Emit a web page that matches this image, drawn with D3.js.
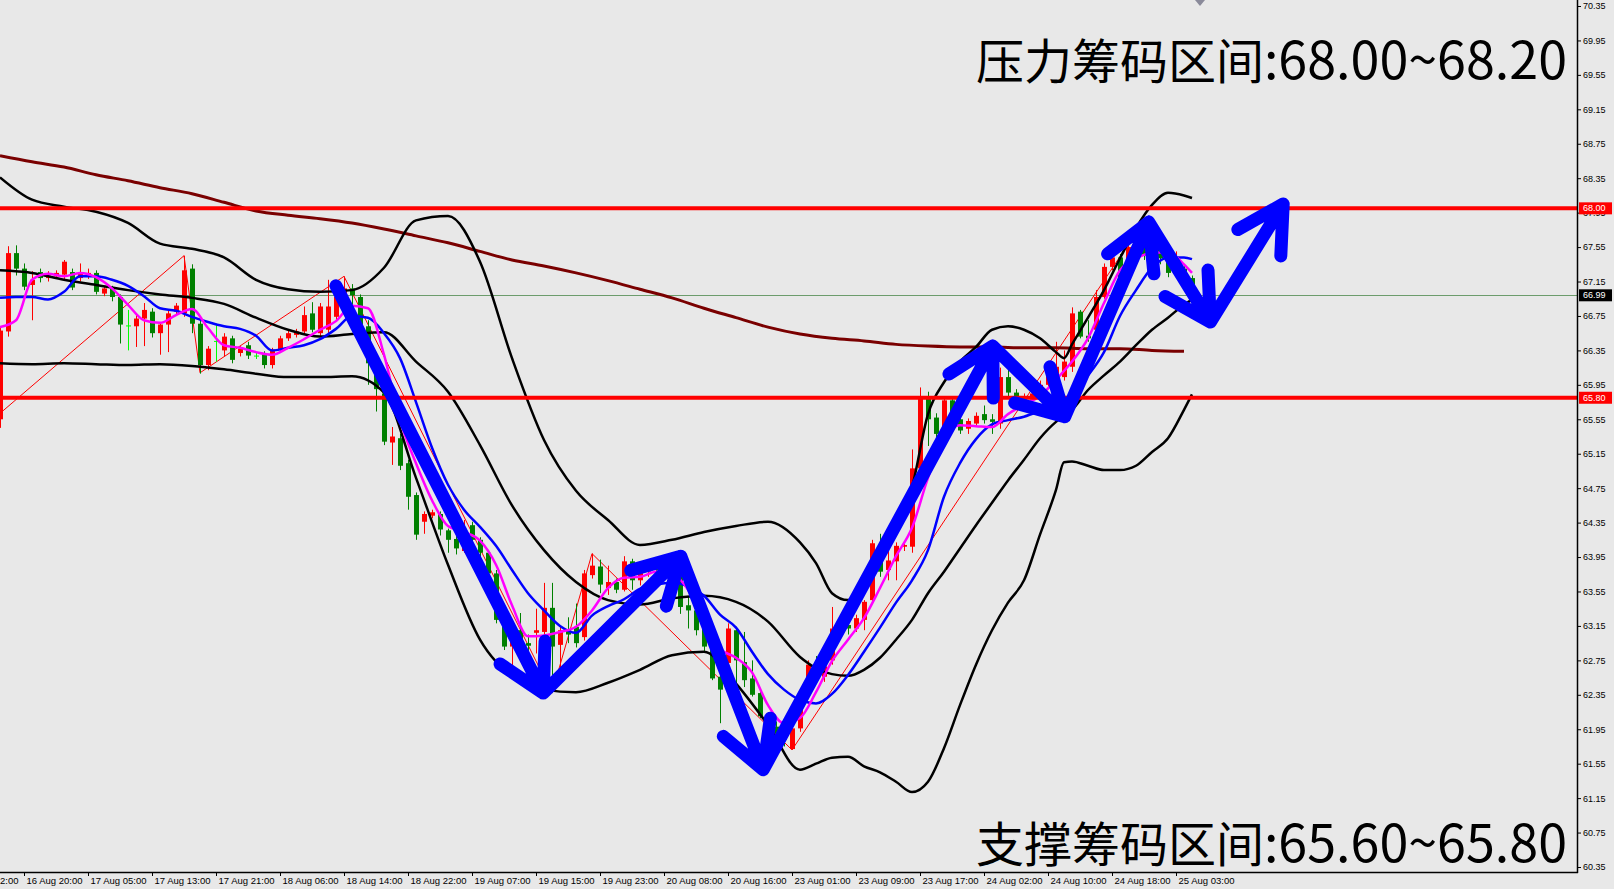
<!DOCTYPE html>
<html>
<head>
<meta charset="utf-8">
<script src="https://cdn.jsdelivr.net/npm/d3@7"></script>
<style>
  html, body { margin: 0; padding: 0; background: #e8e8e8; }
  svg { display: block; }
</style>
</head>
<body>
<div id="chart"></div>
<script>
// ---- candles (H1), bar index 0..149 ----
const candleOpen = [
  65.55, 66.57, 67.48, 67.30, 67.11, 67.26, 67.19, 67.21, 67.23, 67.26,
  67.19, 67.21, 67.25, 67.01, 67.07, 66.97, 66.64, 66.63, 66.72, 66.80,
  66.55, 66.65, 66.80, 66.78, 67.30, 66.66, 66.18, 66.46, 66.35, 66.49,
  66.32, 66.41, 66.29, 66.32, 66.18, 66.36, 66.49, 66.53, 66.57, 66.78,
  66.55, 66.59, 66.74, 66.99, 67.07, 66.97, 66.63, 66.20, 65.85, 65.28,
  65.33, 65.04, 64.67, 64.36, 64.43, 64.45, 64.26, 64.16, 64.02, 64.32,
  64.15, 64.00, 63.76, 63.18, 62.91, 63.10, 62.95, 63.07, 63.08, 63.36,
  62.93, 63.10, 63.14, 63.02, 63.74, 63.84, 63.59, 63.66, 63.57, 63.90,
  63.68, 63.78, 63.86, 63.80, 63.70, 63.76, 63.39, 63.33, 63.12, 62.91,
  62.56, 62.72, 63.10, 62.73, 62.54, 62.37, 62.10, 61.98, 61.98, 61.72,
  61.96, 62.37, 62.70, 62.56, 62.75, 63.12, 63.16, 63.12, 63.22, 63.45,
  64.05, 63.80, 63.90, 64.07, 64.07, 64.98, 65.80, 65.57, 65.38, 65.77,
  65.55, 65.44, 65.50, 65.61, 65.55, 65.50, 66.04, 65.86, 65.73, 65.78,
  65.85, 65.95, 66.04, 66.04, 66.16, 66.80, 66.52, 66.59, 66.97, 67.32,
  67.43, 67.20, 67.55, 67.58, 67.45, 67.52, 67.44, 67.25, 67.30, 67.19
];
const candleHigh = [
  66.62, 67.56, 67.57, 67.36, 67.27, 67.30, 67.27, 67.28, 67.40, 67.30,
  67.36, 67.30, 67.28, 67.10, 67.10, 67.00, 66.82, 66.76, 66.90, 66.84,
  66.68, 66.82, 66.90, 67.45, 67.35, 66.70, 66.40, 66.66, 66.55, 66.52,
  66.40, 66.45, 66.33, 66.34, 66.38, 66.52, 66.58, 66.60, 66.86, 66.91,
  66.90, 67.17, 67.17, 67.21, 67.12, 67.00, 66.70, 66.25, 65.90, 65.46,
  65.38, 65.08, 64.70, 64.48, 64.50, 64.48, 64.28, 64.20, 64.38, 64.36,
  64.18, 64.03, 63.80, 63.33, 63.14, 63.30, 63.05, 63.35, 63.65, 63.65,
  63.15, 63.25, 63.41, 63.80, 63.99, 63.92, 63.85, 63.70, 63.96, 63.93,
  63.85, 63.92, 63.90, 63.88, 63.82, 63.80, 63.49, 63.47, 63.15, 62.95,
  62.60, 63.18, 63.14, 63.08, 62.75, 62.40, 62.12, 62.04, 62.01, 61.98,
  62.30, 62.75, 62.80, 62.72, 63.37, 63.28, 63.20, 63.28, 63.45, 64.15,
  64.22, 64.07, 64.12, 64.12, 65.20, 65.92, 65.87, 65.62, 65.80, 65.82,
  65.60, 65.56, 65.63, 65.71, 65.61, 66.15, 66.17, 65.90, 65.85, 65.90,
  66.00, 66.10, 66.45, 66.35, 66.85, 66.82, 66.70, 67.05, 67.36, 67.58,
  67.47, 67.60, 67.62, 67.62, 67.58, 67.56, 67.52, 67.50, 67.33, 67.22
];
const candleLow = [
  65.45, 66.51, 67.22, 67.05, 66.70, 67.14, 67.15, 67.18, 67.18, 67.05,
  67.15, 67.18, 67.00, 66.98, 66.92, 66.43, 66.35, 66.39, 66.40, 66.50,
  66.30, 66.33, 66.76, 66.74, 66.55, 66.08, 66.12, 66.22, 66.28, 66.20,
  66.28, 66.25, 66.25, 66.14, 66.14, 66.33, 66.46, 66.50, 66.55, 66.56,
  66.52, 66.55, 66.70, 66.95, 66.70, 66.55, 65.95, 65.64, 65.25, 65.02,
  64.96, 64.50, 64.15, 64.22, 64.40, 64.20, 64.00, 63.98, 64.00, 64.10,
  63.95, 63.70, 63.18, 62.87, 62.60, 62.83, 62.80, 62.83, 63.02, 62.37,
  62.60, 62.95, 62.90, 62.98, 63.70, 63.53, 63.51, 63.53, 63.55, 63.57,
  63.62, 63.72, 63.72, 63.70, 63.62, 63.29, 63.12, 63.04, 62.85, 62.52,
  62.02, 62.45, 62.45, 62.44, 62.33, 62.08, 61.86, 61.81, 61.75, 61.71,
  61.92, 62.30, 62.55, 62.50, 62.70, 63.05, 63.05, 63.08, 63.10, 63.42,
  63.72, 63.68, 63.68, 64.02, 64.00, 64.95, 65.24, 65.33, 65.35, 65.50,
  65.38, 65.38, 65.46, 65.50, 65.38, 65.44, 65.82, 65.72, 65.70, 65.74,
  65.80, 65.90, 65.93, 66.00, 66.10, 66.49, 66.45, 66.52, 66.95, 67.28,
  67.15, 67.15, 67.45, 67.40, 67.40, 67.35, 67.20, 67.22, 67.12, 66.95
];
const candleClose = [
  66.58, 67.48, 67.30, 67.09, 67.17, 67.19, 67.22, 67.25, 67.38, 67.08,
  67.25, 67.25, 67.03, 67.07, 66.97, 66.65, 66.64, 66.72, 66.82, 66.55,
  66.65, 66.78, 66.87, 67.28, 66.66, 66.18, 66.37, 66.46, 66.51, 66.24,
  66.37, 66.29, 66.29, 66.18, 66.36, 66.49, 66.55, 66.57, 66.76, 66.59,
  66.86, 66.86, 66.97, 67.07, 66.99, 66.63, 66.20, 65.90, 65.29, 65.35,
  65.01, 64.65, 64.21, 64.45, 64.47, 64.27, 64.15, 64.05, 64.13, 64.15,
  64.00, 63.76, 63.22, 62.91, 62.99, 62.95, 62.92, 63.10, 63.36, 62.91,
  63.10, 63.05, 62.95, 63.76, 63.85, 63.63, 63.66, 63.57, 63.90, 63.68,
  63.78, 63.86, 63.80, 63.83, 63.76, 63.37, 63.33, 63.10, 62.91, 62.54,
  62.41, 63.12, 62.75, 62.52, 62.35, 62.10, 61.90, 61.90, 61.83, 61.96,
  62.25, 62.70, 62.62, 62.68, 63.12, 63.18, 63.12, 63.24, 63.43, 64.11,
  63.78, 63.91, 64.08, 64.09, 64.98, 65.80, 65.55, 65.38, 65.77, 65.57,
  65.42, 65.53, 65.59, 65.54, 65.52, 66.04, 65.86, 65.77, 65.80, 65.85,
  65.95, 66.05, 66.16, 66.22, 66.78, 66.51, 66.49, 66.97, 67.32, 67.43,
  67.20, 67.55, 67.58, 67.45, 67.52, 67.42, 67.25, 67.30, 67.19, 66.99
];

// ---- moving averages, read every 2 bars (0,2,...,148) plus bar 149 ----
const maBars = d3.range(0, 149, 2).concat([149]);
const maFast = [ // magenta
  66.62, 66.70, 67.17, 67.24, 67.21, 67.25, 67.20, 67.07, 66.88, 66.70,
  66.67, 66.76, 66.83, 66.61, 66.41, 66.38, 66.33, 66.30, 66.38, 66.48,
  66.59, 66.69, 66.87, 66.84, 66.30, 65.54, 65.04, 64.61, 64.31, 64.24,
  64.14, 63.86, 63.39, 63.03, 63.04, 63.08, 63.14, 63.33, 63.59, 63.71,
  63.72, 63.78, 63.76, 63.57, 63.22, 62.89, 62.78, 62.61, 62.23, 62.02,
  62.08, 62.38, 62.74, 62.99, 63.24, 63.59, 63.96, 64.29, 64.87, 65.33,
  65.48, 65.47, 65.46, 65.61, 65.72, 65.82, 66.01, 66.22, 66.49, 66.90,
  67.28, 67.42, 67.48, 67.49, 67.35, 67.25
];
const maSlow = [ // blue
  66.96, 66.97, 66.97, 66.94, 67.03, 67.21, 67.21, 67.17, 67.10, 66.98,
  66.84, 66.81, 66.74, 66.68, 66.63, 66.60, 66.52, 66.35, 66.38, 66.41,
  66.48, 66.60, 66.75, 66.73, 66.55, 66.26, 65.75, 65.22, 64.79, 64.50,
  64.30, 64.08, 63.80, 63.53, 63.33, 63.15, 63.07, 63.27, 63.38, 63.46,
  63.58, 63.63, 63.65, 63.61, 63.50, 63.28, 63.13, 62.85, 62.59, 62.41,
  62.29, 62.25, 62.36, 62.58, 62.85, 63.13, 63.42, 63.68, 64.03, 64.65,
  65.04, 65.32, 65.49, 65.54, 65.58, 65.65, 65.73, 65.84, 66.06, 66.33,
  66.75, 67.05, 67.31, 67.43, 67.43, 67.41
];

// ---- long moving average (dark red), read every 4 bars plus bar 149 ----
const ma200Bars = d3.range(0, 149, 4).concat([149]);
const ma200 = [
  68.61, 68.54, 68.48, 68.39, 68.32, 68.24, 68.17, 68.07, 67.97, 67.92,
  67.88, 67.83, 67.76, 67.68, 67.60, 67.50, 67.40, 67.33, 67.25, 67.16,
  67.06, 66.96, 66.84, 66.73, 66.62, 66.54, 66.49, 66.46, 66.42, 66.40,
  66.39, 66.39, 66.38, 66.38, 66.37, 66.37, 66.35, 66.34
];

// ---- Bollinger bands ----
const bbBars = [0, 4, 8, 12, 16, 20, 24, 28, 32, 36, 40, 44, 48, 52, 56, 60, 64, 68, 72, 76,
  80, 84, 88, 92, 96, 100, 102, 104, 106, 108, 110, 112, 114, 116, 118, 120, 122, 124, 126, 128,
  130, 132, 133, 134, 136, 138, 140, 142, 144, 146, 148, 149];
const bbUpper = [
  68.36, 68.10, 68.02, 67.96, 67.83, 67.59, 67.53, 67.43, 67.17, 67.06,
  67.03, 67.05, 67.31, 67.86, 67.91, 67.38, 66.26, 65.31, 64.72, 64.38,
  64.09, 64.15, 64.24, 64.31, 64.36, 64.12, 63.88, 63.53, 63.45, 63.57,
  63.92, 64.26, 64.76, 65.61, 65.98, 66.22, 66.39, 66.59, 66.63, 66.59,
  66.49, 66.33, 66.26, 66.42, 66.73, 67.05, 67.42, 67.77, 68.04, 68.18,
  68.15, 68.12
];
const bbMid = [
  67.28, 67.25, 67.17, 67.11, 67.05, 67.00, 66.96, 66.89, 66.73, 66.59,
  66.51, 66.54, 66.56, 66.22, 65.87, 65.25, 64.55, 64.03, 63.66, 63.45,
  63.40, 63.47, 63.50, 63.43, 63.20, 62.79, 62.66, 62.59, 62.57, 62.64,
  62.78, 62.99, 63.22, 63.53, 63.78, 64.05, 64.32, 64.58, 64.84, 65.08,
  65.33, 65.52, 65.59, 65.66, 65.89, 66.06, 66.22, 66.41, 66.59, 66.73,
  66.88, 66.94
];
const bbLower = [
  66.20, 66.19, 66.20, 66.19, 66.18, 66.19, 66.17, 66.13, 66.08, 66.04,
  66.04, 66.05, 65.86, 64.87, 63.86, 62.99, 62.57, 62.41, 62.38, 62.49,
  62.64, 62.81, 62.85, 62.48, 62.00, 61.48, 61.55, 61.62, 61.63, 61.52,
  61.45, 61.34, 61.22, 61.34, 61.73, 62.23, 62.70, 63.10, 63.42, 63.68,
  64.21, 64.73, 65.05, 65.06, 65.01, 64.96, 64.96, 65.01, 65.17, 65.33,
  65.66, 65.84
];

// ---- zigzag (thin red) ----
const zigBars = [-3, 23, 25, 43, 69, 74, 99, 141];
const zigPrices = [65.38, 67.45, 66.09, 67.21, 62.37, 63.99, 61.71, 67.58];

// ---- hand-drawn blue path ----
const arrowBars = [42, 67.9, 85.1, 95.4, 124.1, 133.1, 143.6, 151.3, 160.4];
const arrowPrices = [67.10, 62.37, 63.96, 61.48, 66.40, 65.58, 67.84, 66.68, 68.05];

// ---- levels and labels ----
const resistance = 68.00;
const support = 65.80;
const bidPrice = 66.99;
const priceTicks = d3.range(0, 26).map(k => +(60.35 + 0.4 * k).toFixed(2));
const timeTickBars = [-5, 3, 11, 19, 27, 35, 43, 51, 59, 67, 75, 83, 91, 99, 107, 115, 123, 131, 139, 147];
const timeTickLabels = ["16 Aug 12:00", "16 Aug 20:00", "17 Aug 05:00", "17 Aug 13:00", "17 Aug 21:00",
  "18 Aug 06:00", "18 Aug 14:00", "18 Aug 22:00", "19 Aug 07:00", "19 Aug 15:00", "19 Aug 23:00",
  "20 Aug 08:00", "20 Aug 16:00", "23 Aug 01:00", "23 Aug 09:00", "23 Aug 17:00", "24 Aug 02:00",
  "24 Aug 10:00", "24 Aug 18:00", "25 Aug 03:00"];
const titleTop = ["压力筹码区间", ":68.00~68.20"];
const titleBottom = ["支撑筹码区间", ":65.60~65.80"];

// ---- layout ----
const width = 1614, height = 889;
const plotW = 1577, plotH = 872;

const x = d3.scaleLinear().domain([0, 149]).range([0, 1192]);
const y = d3.scaleLinear().domain([60.35, 70.35]).range([867, 6]);

const svg = d3.select("#chart").append("svg")
  .attr("width", width)
  .attr("height", height);

svg.append("rect").attr("width", width).attr("height", height).attr("fill", "#e8e8e8");

svg.append("defs").append("clipPath").attr("id", "plotClip")
  .append("rect").attr("x", 0).attr("y", 0).attr("width", plotW).attr("height", plotH);

const plot = svg.append("g").attr("clip-path", "url(#plotClip)");

// bid line
plot.append("line")
  .attr("x1", 0).attr("x2", plotW)
  .attr("y1", Math.round(y(bidPrice)) + 0.5).attr("y2", Math.round(y(bidPrice)) + 0.5)
  .attr("stroke", "#6c9c6c").attr("stroke-width", 1);

// zigzag
plot.append("path")
  .attr("d", d3.line().x(d => x(d[0])).y(d => y(d[1]))(d3.zip(zigBars, zigPrices)))
  .attr("fill", "none").attr("stroke", "#ff0000").attr("stroke-width", 1);

// candles
const candles = d3.range(candleOpen.length).map(i => ({
  i, o: candleOpen[i], h: candleHigh[i], l: candleLow[i], c: candleClose[i]
}));
const candleColor = d => d.c > d.o ? "#ff0000" : (d.c < d.o ? "#008000" : "#00ff00");

const cg = plot.append("g");
cg.selectAll("line")
  .data(candles)
  .join("line")
  .attr("x1", d => Math.round(x(d.i)) + 0.5)
  .attr("x2", d => Math.round(x(d.i)) + 0.5)
  .attr("y1", d => y(d.h))
  .attr("y2", d => y(d.l))
  .attr("stroke", candleColor)
  .attr("stroke-width", 1);
cg.selectAll("rect")
  .data(candles)
  .join("rect")
  .attr("x", d => Math.round(x(d.i)) - 2)
  .attr("y", d => Math.min(y(d.o), y(d.c)))
  .attr("width", 5)
  .attr("height", d => Math.max(1, Math.abs(y(d.o) - y(d.c))))
  .attr("fill", candleColor);

// indicator lines
const curveLine = d3.line().x(d => x(d[0])).y(d => y(d[1])).curve(d3.curveMonotoneX);

function drawLine(bars, vals, color, w) {
  plot.append("path")
    .attr("d", curveLine(d3.zip(bars, vals)))
    .attr("fill", "none")
    .attr("stroke", color)
    .attr("stroke-width", w)
    .attr("stroke-linejoin", "round");
}

drawLine(ma200Bars, ma200, "#7a0000", 3);
drawLine(bbBars, bbUpper, "#000000", 2.5);
drawLine(bbBars, bbMid, "#000000", 2.5);
drawLine(bbBars, bbLower, "#000000", 2.5);
drawLine(maBars, maSlow, "#0000ff", 2.5);
drawLine(maBars, maFast, "#ff00ff", 2.5);

// horizontal levels
[resistance, support].forEach(p => {
  plot.append("line")
    .attr("x1", 0).attr("x2", plotW)
    .attr("y1", y(p)).attr("y2", y(p))
    .attr("stroke", "#ff0000").attr("stroke-width", 4);
});

// blue arrows
const pts = d3.zip(arrowBars, arrowPrices).map(d => [x(d[0]), y(d[1])]);
let arrowD = "";
for (let k = 0; k < pts.length - 1; k++) {
  const [ax, ay] = pts[k], [bx, by] = pts[k + 1];
  const a = Math.atan2(ay - by, ax - bx);
  const len = 52, spread = Math.PI / 6.2;
  const b1 = [bx + len * Math.cos(a - spread), by + len * Math.sin(a - spread)];
  const b2 = [bx + len * Math.cos(a + spread), by + len * Math.sin(a + spread)];
  arrowD += `M${ax},${ay}L${bx},${by}M${b1[0]},${b1[1]}L${bx},${by}L${b2[0]},${b2[1]}`;
}
svg.append("path")
  .attr("d", arrowD)
  .attr("fill", "none")
  .attr("stroke", "#0000ff")
  .attr("stroke-width", 13)
  .attr("stroke-linecap", "round")
  .attr("stroke-linejoin", "round");

// axes
const yAxis = d3.axisRight(y)
  .tickValues(priceTicks)
  .tickFormat(d3.format(".2f"))
  .tickSize(4)
  .tickSizeOuter(0)
  .tickPadding(2);
const ya = svg.append("g").attr("transform", `translate(${plotW},0)`).call(yAxis);
ya.select(".domain").remove();
ya.selectAll("text").attr("font-family", "Liberation Sans, Arial, sans-serif").attr("font-size", 9).attr("fill", "#000");

const xAxis = d3.axisBottom(x)
  .tickValues(timeTickBars)
  .tickFormat((d, i) => timeTickLabels[i])
  .tickSize(4)
  .tickSizeOuter(0);
const xa = svg.append("g").attr("transform", `translate(0,${plotH})`).call(xAxis);
xa.select(".domain").remove();
xa.selectAll("text")
  .attr("text-anchor", "start")
  .attr("x", 2)
  .attr("y", 5)
  .attr("dy", "0.71em")
  .attr("font-family", "Liberation Sans Narrow, Liberation Sans, Arial, sans-serif")
  .attr("font-size", 9.5)
  .attr("fill", "#000");

// frame lines
svg.append("line").attr("x1", plotW + 0.5).attr("x2", plotW + 0.5).attr("y1", 0).attr("y2", plotH + 1)
  .attr("stroke", "#000").attr("stroke-width", 1.5);
svg.append("line").attr("x1", 0).attr("x2", plotW + 1).attr("y1", plotH + 0.5).attr("y2", plotH + 0.5)
  .attr("stroke", "#000").attr("stroke-width", 1.5);

// price tags on the axis
function priceTag(p, bg) {
  const g = svg.append("g").attr("transform", `translate(${plotW + 2},${y(p)})`);
  g.append("rect").attr("x", 0).attr("y", -6).attr("width", 33).attr("height", 12).attr("fill", bg);
  g.append("text").attr("x", 4).attr("y", 0).attr("dy", "0.35em")
    .attr("font-family", "Liberation Sans, Arial, sans-serif").attr("font-size", 9)
    .attr("fill", "#fff").text(p.toFixed(2));
}
priceTag(resistance, "#ff0000");
priceTag(bidPrice, "#000000");
priceTag(support, "#ff0000");

// chart shift marker
svg.append("path")
  .attr("d", `M${x(150) - 5},0L${x(150) + 5},0L${x(150)},6Z`)
  .attr("fill", "#8a8a9a");

// annotations
function title(parts, baseline) {
  const t = svg.append("text")
    .attr("x", 1567).attr("y", baseline)
    .attr("text-anchor", "end")
    .attr("font-family", "Noto Sans CJK SC, sans-serif")
    .attr("fill", "#000");
  t.append("tspan").attr("font-size", 48).text(parts[0]);
  t.append("tspan").attr("font-size", 52).text(parts[1]);
}
title(titleTop, 79);
title(titleBottom, 862);
</script>
</body>
</html>
